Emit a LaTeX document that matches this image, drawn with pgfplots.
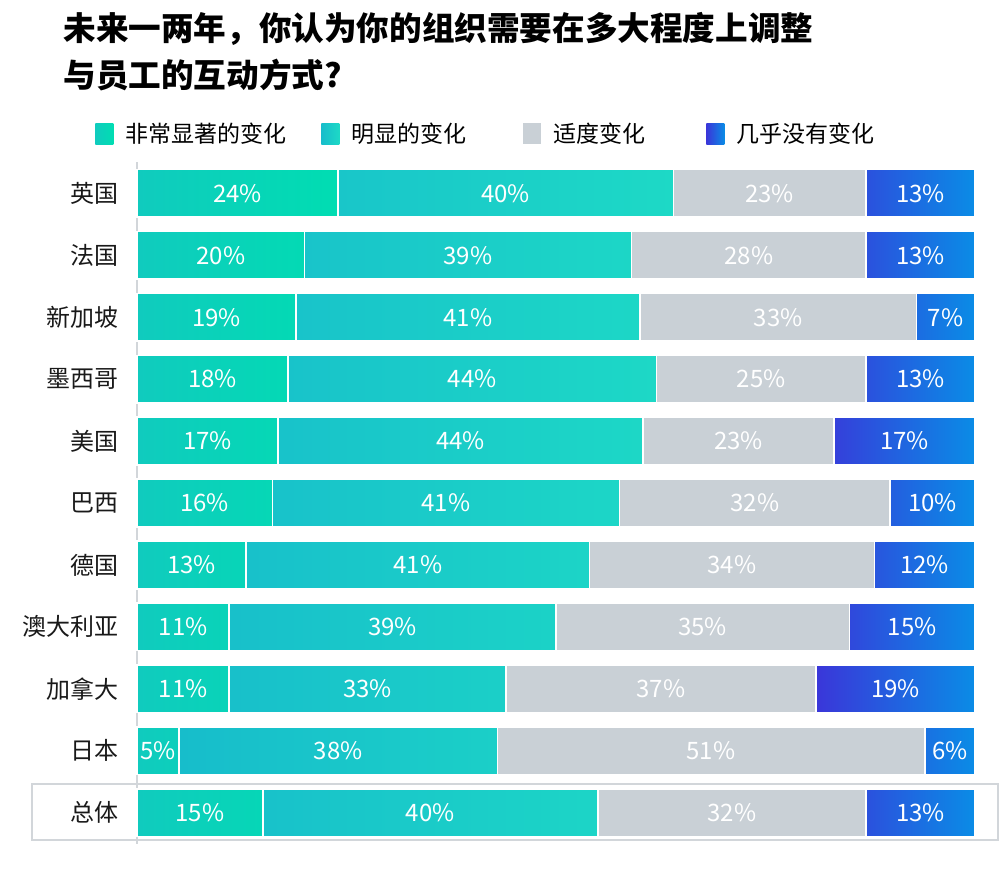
\documentclass[border=0pt]{standalone}
\usepackage{fontspec}
\setmainfont{Noto Sans CJK SC}
\usepackage{pgfplots}
\usepackage{pgfplotstable}
\pgfplotsset{compat=1.18}
\definecolor{sAL}{HTML}{10CBBE}
\definecolor{sAR}{HTML}{00DDB2}
\definecolor{sBL}{HTML}{17BDCB}
\definecolor{sBR}{HTML}{1DD9C6}
\definecolor{sC}{HTML}{C9D0D6}
\definecolor{sDL}{HTML}{3A36D9}
\definecolor{sDR}{HTML}{0A8CE6}
\definecolor{axgray}{HTML}{D2D6DA}

\pgfplotstableread{
idx a b c d la lb lc ld
0 24 40 23 13 24 40 23 13
1 20 39 28 13 20 39 28 13
2 19 41 33 7 19 41 33 7
3 18 44 25 13 18 44 25 13
4 16.83 43.56 22.77 16.83 17 44 23 17
5 16.16 41.41 32.32 10.10 16 41 32 10
6 13 41 34 12 13 41 34 12
7 11 39 35 15 11 39 35 15
8 11 33 37 19 11 33 37 19
9 5 38 51 6 5 38 51 6
10 15 40 32 13 15 40 32 13
}\data

\pgfplotsset{
  samegeom/.style={scale only axis, width=419pt, height=340.5pt,
    at={(68.5pt,13.25pt)}, anchor=south west,
    xmin=0, xmax=100, ymin=-0.5, ymax=10.5, y dir=reverse, clip=false},
  seglabel/.style={draw=none, mark=none,
    point meta=explicit symbolic,
    nodes near coords={\pgfplotspointmeta\%},
    every node near coord/.style={anchor=center, inner sep=0pt, text=white, font=\fontsize{12}{14}\selectfont}},
}

\begin{document}
\begin{tikzpicture}
\path[use as bounding box] (0,0) rectangle (500pt,435pt);
% title
\node[anchor=base west, inner sep=0pt, font=\fontsize{16.3}{20}\selectfont\bfseries] at (31.5pt,414.5pt) {未来一两年，你认为你的组织需要在多大程度上调整};
\node[anchor=base west, inner sep=0pt, font=\fontsize{16.3}{20}\selectfont\bfseries] at (31.5pt,391pt) {与员工的互动方式?};
% total row frame
\draw[axgray, line width=1pt] (16pt,15pt) rectangle (499pt,43pt);
\begin{axis}[
  samegeom,
  xbar stacked,
  bar width=0.77,
  ytick={0,...,10},
  yticklabels={英国,法国,新加坡,墨西哥,美国,巴西,德国,澳大利亚,加拿大,日本,总体},
  major tick length=0pt,
  axis x line=none,
  axis y line*=left,
  y axis line style={draw=axgray, line width=0.6pt, -},
  yticklabel style={font=\fontsize{12}{14}\selectfont, text=black!90, inner sep=0pt, xshift=-9pt},
  legend columns=4,
  legend style={at={(-0.0501,1.0419)}, anchor=west, draw=none, fill=none, inner sep=0pt,
     font=\fontsize{11.5}{14}\selectfont, nodes={inner sep=0pt, anchor=west},
     /tikz/every odd column/.style={column sep=6pt}},
  legend image code/.code={\path[#1, draw=none] (0pt,-5.25pt) rectangle (9pt,5.25pt);},
]
\addplot[left color=sAL, right color=sAR, draw=white, line width=0.8pt] table[x=a, y=idx] {\data};
\addplot[left color=sBL, right color=sBR, draw=white, line width=0.8pt] table[x=b, y=idx] {\data};
\addplot[fill=sC, draw=white, line width=0.8pt] table[x=c, y=idx] {\data};
\addplot[left color=sDL, right color=sDR, draw=white, line width=0.8pt] table[x=d, y=idx] {\data};
\legend{\makebox[98pt][l]{非常显著的变化},\makebox[86pt][l]{明显的变化},\makebox[76.5pt][l]{适度变化},几乎没有变化}
\end{axis}
% segment labels, centred in each segment (overlay axis with the same geometry)
\begin{axis}[samegeom, hide axis]
\addplot[seglabel] table[x expr={\thisrow{a}/2}, y=idx, meta=la] {\data};
\addplot[seglabel] table[x expr={\thisrow{a}+\thisrow{b}/2}, y=idx, meta=lb] {\data};
\addplot[seglabel] table[x expr={\thisrow{a}+\thisrow{b}+\thisrow{c}/2}, y=idx, meta=lc] {\data};
\addplot[seglabel] table[x expr={\thisrow{a}+\thisrow{b}+\thisrow{c}+\thisrow{d}/2}, y=idx, meta=ld] {\data};
\end{axis}
\end{tikzpicture}
\end{document}
